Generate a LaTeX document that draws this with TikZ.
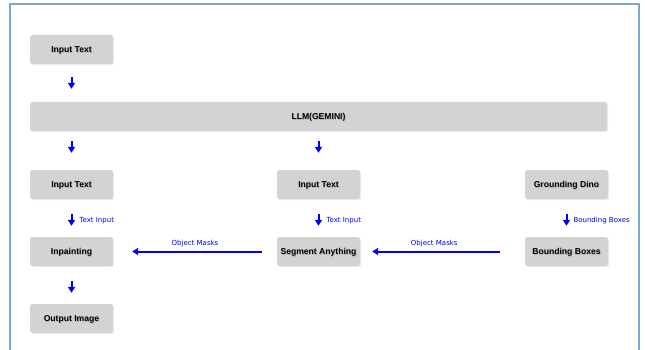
\documentclass[tikz,border=0pt]{standalone}
\usepackage{fontspec}
\setmainfont{Liberation Sans}
\newfontfamily\tagfont{DejaVu Sans}
\usetikzlibrary{arrows.meta, shadows, positioning}
\definecolor{boxgray}{HTML}{D3D3D3}
\definecolor{flowblue}{HTML}{0000F0}
\definecolor{framebl}{HTML}{7AAAD2}
% bold box text with a soft grey shadow
\newcommand{\boxtext}[1]{\makebox[0pt][l]{\hspace{0.7pt}\raisebox{-0.7pt}{\textcolor{black!30}{#1}}}#1}

\begin{document}
\begin{tikzpicture}[x=1pt, y=-1pt,
    box/.style={rectangle, rounded corners=2.5pt, fill=boxgray, minimum width=83pt,
      minimum height=29pt, inner sep=0pt, text depth=0pt,
      font=\fontsize{8.6}{10}\selectfont\bfseries,
      drop shadow={opacity=0.15, shadow xshift=1.2pt, shadow yshift=-1.2pt}},
    flow/.style={draw=flowblue, line width=2pt, -{Triangle[width=7pt, length=6pt]}},
    tag/.style={text=flowblue, font=\tagfont\fontsize{7}{8}\selectfont, inner sep=1pt}]
    \useasboundingbox (0,0) rectangle (645,350);

    % frame
    \draw[framebl, line width=1.5pt] (10,352) -- (10,4) -- (639,4) -- (639,352);

    \node[box] (in1) at (71.5,49.5) {\boxtext{Input Text}};
    \node[box, minimum width=577pt] (llm) at (318.5,116.5) {\boxtext{LLM(GEMINI)}};
    \node[box] (in2) at (71.5,184.5) {\boxtext{Input Text}};
    \node[box] (in3) at (318.5,184.5) {\boxtext{Input Text}};
    \node[box] (gd) at (566.5,184.5) {\boxtext{Grounding Dino}};
    \node[box] (inp) at (71.5,251.5) {\boxtext{Inpainting}};
    \node[box] (seg) at (318.5,251.5) {\boxtext{Segment Anything}};
    \node[box] (bb) at (566.5,251.5) {\boxtext{Bounding Boxes}};
    \node[box] (out) at (71.5,318.5) {\boxtext{Output Image}};

    % vertical flow
    \draw[flow, shorten <=13pt, shorten >=13pt] (in1) -- (in1 |- llm.north);
    \draw[flow, shorten <=10pt, shorten >=17pt] (llm.south -| in2) -- (in2);
    \draw[flow, shorten <=10pt, shorten >=17pt] (llm) -- (in3);
    \draw[flow, shorten <=15pt, shorten >=11pt] (in2) --
      node[tag, pos=0.58, right=6pt] {Text Input} (inp);
    \draw[flow, shorten <=15pt, shorten >=11pt] (in3) --
      node[tag, pos=0.58, right=6pt] {Text Input} (seg);
    \draw[flow, shorten <=15pt, shorten >=11pt] (gd) --
      node[tag, pos=0.58, right=5pt] {Bounding Boxes} (bb);
    \draw[flow, shorten <=15pt, shorten >=11pt] (inp) -- (out);

    % horizontal flow
    \draw[flow, shorten <=25pt, shorten >=12pt] (bb) --
      node[tag, pos=0.55, above=3pt] {Object Masks} (seg);
    \draw[flow, shorten <=15pt, shorten >=19pt] (seg) --
      node[tag, midway, above=3pt] {Object Masks} (inp);
\end{tikzpicture}
\end{document}
